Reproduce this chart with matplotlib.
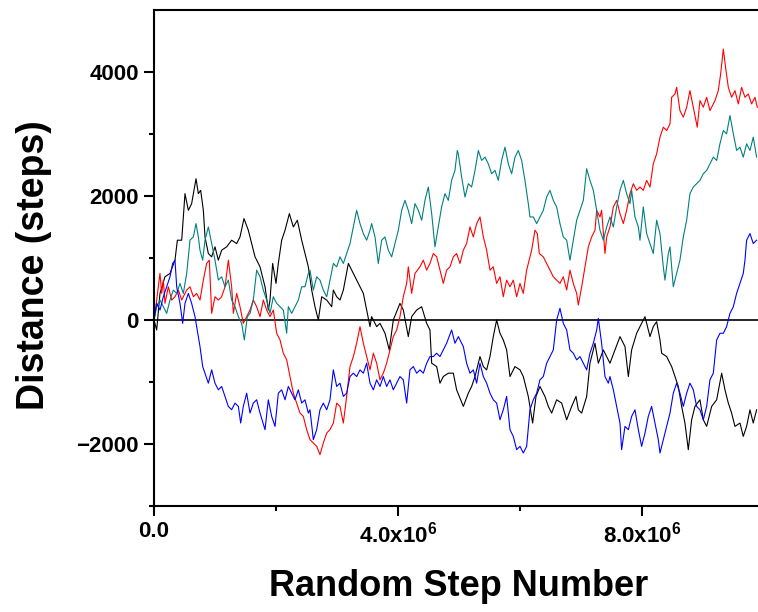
import numpy as np
import matplotlib
matplotlib.use("Agg")
import matplotlib.pyplot as plt
from matplotlib.ticker import FixedLocator, FixedFormatter

plt.rcParams['font.family'] = ['Liberation Sans', 'DejaVu Sans']
plt.rcParams['font.weight'] = 'bold'
plt.rcParams['mathtext.fontset'] = 'custom'
plt.rcParams['mathtext.rm'] = 'Liberation Sans:bold'
plt.rcParams['mathtext.bf'] = 'Liberation Sans:bold'
plt.rcParams['mathtext.it'] = 'Liberation Sans:bold'

# -----------------------------
# datos (x en millones de pasos, y en pasos)
# -----------------------------

x_black = [0, 0.044, 0.098, 0.180, 0.262, 0.344, 0.383, 0.454, 0.508, 0.563, 0.617, 0.689, 0.727, 0.765,
           0.809, 0.836, 0.891, 0.945, 1.000, 1.055, 1.109, 1.191, 1.273, 1.355, 1.410, 1.475, 1.546, 1.601,
           1.656, 1.738, 1.820, 1.874, 1.902, 1.945, 2.000, 2.038, 2.093, 2.148, 2.219, 2.284, 2.350, 2.421,
           2.475, 2.530,
           2.585, 2.639, 2.694, 2.749, 2.831, 2.913, 2.940, 2.995, 3.049, 3.104, 3.186, 3.268, 3.350, 3.432,
           3.486, 3.541, 3.568, 3.650, 3.705, 3.787, 3.857, 3.923, 4.032, 4.087, 4.169, 4.224, 4.306, 4.388,
           4.470, 4.524, 4.552, 4.634, 4.688, 4.743, 4.825, 4.907, 4.961,
           5.071, 5.153, 5.207, 5.262, 5.344, 5.399, 5.453, 5.508, 5.562, 5.617, 5.672, 5.726, 5.781, 5.836,
           5.918, 6.000, 6.054, 6.136, 6.207, 6.262, 6.327, 6.409, 6.464, 6.519, 6.601, 6.683, 6.765, 6.847,
           6.918, 6.956, 7.011, 7.093, 7.147, 7.229, 7.284, 7.366,
           7.475, 7.557, 7.639, 7.721, 7.776, 7.830, 7.912, 7.994, 8.049, 8.131, 8.185, 8.240, 8.295, 8.322,
           8.404, 8.486, 8.541, 8.595, 8.650, 8.704, 8.759, 8.814, 8.868, 8.950, 9.005, 9.060, 9.142, 9.224,
           9.306, 9.360, 9.415, 9.469, 9.524, 9.606, 9.660, 9.715, 9.770, 9.824, 9.879]
y_black = [0, -161, 429, 697, 751, 965, 1287, 1287, 2038, 1769, 1877, 2279, 2038, 2091,
           1769, 1340, 1072, 1019, 1180, 965, 1126, 1180, 1287, 1233, 1340, 1636, 1448, 1233,
           1019, 858, 536, 161, 322, 912, 590, 912, 1287, 1448, 1716, 1501, 1609, 1287,
           1072, 858,
           483, 214, 0, 375, 322, 214, 483, 375, 322, 483, 912, 751, 590, 429,
           161, -107, 54, -107, -54, -214, -483, 0, 268, 161, -268, 54, 161, 214,
           -54, -161, -697, -751, -1019, -912, -858, -858, -1126,
           -1394, -1180, -1072, -912, -590, -751, -804, -590, -268, 0, -214, -322, -483, -912,
           -751, -804, -912, -1233, -1662, -1233, -1072, -1233, -1394, -1501, -1287, -1340, -1609, -1394,
           -1233, -1448, -1501, -1233, -697, -375, -697, -483,
           -697, -483, -268, -429, -912, -483, -214, -54, 54, -268, -107, -27, -322, -536,
           -590, -751, -912, -1072, -1394, -1662, -2091, -1609, -1394, -1287, -1609, -1716, -1394, -1287,
           -858, -1126, -1340, -1501, -1716, -1662, -1877, -1716, -1448, -1662, -1448]

x_red = [0, 0.044, 0.098, 0.126, 0.153, 0.180, 0.235, 0.290, 0.344, 0.399, 0.454, 0.536, 0.590, 0.645,
         0.699, 0.754, 0.809, 0.863, 0.907, 0.945, 1.000, 1.055, 1.109, 1.164, 1.219, 1.273, 1.301, 1.355,
         1.410, 1.464, 1.519, 1.574, 1.628, 1.683, 1.738, 1.792, 1.847, 1.902, 1.956, 2.011, 2.066, 2.120,
         2.175, 2.230, 2.284, 2.339, 2.393, 2.448, 2.503,
         2.557, 2.612, 2.667, 2.721, 2.776, 2.831, 2.885, 2.940, 2.995, 3.049, 3.104, 3.158, 3.213, 3.268,
         3.322, 3.377, 3.432, 3.486, 3.541, 3.596, 3.650, 3.705, 3.759, 3.814, 3.868, 3.923, 3.978, 4.032,
         4.087, 4.142, 4.169, 4.224, 4.278, 4.360, 4.415, 4.470, 4.524, 4.579, 4.634, 4.688, 4.743, 4.797,
         4.852, 4.907, 4.961,
         5.016, 5.071, 5.125, 5.180, 5.235, 5.289, 5.344, 5.399, 5.453, 5.508, 5.562, 5.617, 5.672, 5.726,
         5.781, 5.836, 5.890, 5.945, 6.000, 6.054, 6.109, 6.191, 6.245, 6.284, 6.316, 6.382, 6.437, 6.491,
         6.546, 6.601, 6.655, 6.710, 6.765, 6.819, 6.874, 6.929, 6.956, 7.011, 7.065, 7.120, 7.175, 7.229,
         7.257, 7.311, 7.338, 7.393,
         7.421, 7.475, 7.530, 7.585, 7.639, 7.694, 7.748, 7.803, 7.858, 7.912, 7.967, 8.021, 8.076, 8.131,
         8.185, 8.240, 8.295, 8.349, 8.404, 8.459, 8.486, 8.541, 8.568, 8.622, 8.677, 8.732, 8.786, 8.841,
         8.906, 8.950, 9.005, 9.060, 9.114, 9.196, 9.251, 9.289, 9.333, 9.377, 9.415, 9.469, 9.524, 9.579,
         9.633, 9.688, 9.742, 9.797, 9.852, 9.890]
y_red = [0, 322, 751, 429, 644, 268, 536, 322, 375, 483, 322, 483, 536, 375,
         429, 322, 644, 912, 965, 107, 375, 322, 375, 536, 965, 536, 107, 429,
         215, -54, 54, 161, 322, 215, 54, 322, 161, 54, 161, -214, -322, -536,
         -643, -911, -1180, -1340, -1501, -1555, -1769,
         -1930, -1984, -2038, -2172, -1984, -1823, -1769, -1662, -1340, -1394, -1662, -1233, -751, -590,
         -375, -107, -375, -590, -804, -536, -697, -965, -858, -697, -483, -268, -161, 54,
         375, 590, 858, 429, 751, 858, 965, 804, 912, 1072, 1019, 804, 590, 804,
         858, 1019, 1072,
         912, 1126, 1233, 1501, 1340, 1555, 1662, 1340, 1126, 804, 858, 590, 697, 375,
         643, 536, 643, 375, 590, 429, 804, 1126, 1448, 1394, 1072, 1019, 912, 804,
         697, 643, 590, 697, 483, 804, 590, 429, 241, 536, 858, 1180, 1340, 1448,
         1769, 1662, 1769, 1072,
         1340, 1501, 1823, 1930, 1716, 1555, 1769, 2038, 2198, 2091, 2145, 2091, 2252, 2145,
         2520, 2681, 2949, 3110, 3056, 3164, 3592, 3646, 3753, 3378, 3271, 3432, 3700, 3432,
         3110, 3539, 3432, 3592, 3378, 3539, 3700, 3968, 4370, 4021, 3753, 3592, 3700, 3485,
         3753, 3592, 3646, 3485, 3592, 3432]

x_teal = [0, 0.044, 0.098, 0.153, 0.208, 0.262, 0.317, 0.372, 0.426, 0.481, 0.536, 0.590, 0.645, 0.689,
          0.727, 0.754, 0.798, 0.836, 0.891, 0.945, 1.000, 1.055, 1.109, 1.164, 1.219, 1.273, 1.328, 1.383,
          1.437, 1.481, 1.530, 1.574, 1.628, 1.683, 1.738, 1.792, 1.847, 1.902, 1.956, 2.011, 2.066, 2.120,
          2.175, 2.202, 2.257, 2.311, 2.366, 2.421, 2.475, 2.530,
          2.557, 2.612, 2.667, 2.721, 2.776, 2.831, 2.885, 2.940, 2.995, 3.049, 3.104, 3.158, 3.213, 3.268,
          3.322, 3.377, 3.432, 3.486, 3.541, 3.568, 3.623, 3.677, 3.732, 3.787, 3.841, 3.896, 3.950, 4.005,
          4.060, 4.114, 4.169, 4.224, 4.278, 4.333, 4.388, 4.442, 4.497, 4.552, 4.606, 4.661, 4.715, 4.770,
          4.825, 4.879, 4.934, 4.972,
          4.989, 5.043, 5.098, 5.153, 5.207, 5.262, 5.317, 5.371, 5.426, 5.480, 5.535, 5.590, 5.644, 5.699,
          5.754, 5.808, 5.863, 5.918, 5.972, 6.027, 6.081, 6.136, 6.163, 6.218, 6.273, 6.327, 6.382, 6.437,
          6.491, 6.546, 6.601, 6.655, 6.710, 6.765, 6.819, 6.874, 6.929, 6.983, 7.038, 7.093, 7.147, 7.202,
          7.257,
          7.311, 7.366, 7.421, 7.475, 7.530, 7.585, 7.639, 7.694, 7.748, 7.803, 7.830, 7.885, 7.940, 7.967,
          8.021, 8.076, 8.131, 8.185, 8.240, 8.295, 8.349, 8.377, 8.431, 8.459, 8.513, 8.568, 8.622, 8.677,
          8.732, 8.786, 8.841, 8.896, 8.950, 9.005, 9.060, 9.114, 9.169, 9.224, 9.278, 9.333, 9.387, 9.442,
          9.497, 9.551, 9.606, 9.660, 9.715, 9.770, 9.824, 9.879]
y_teal = [0, 215, 322, 215, 107, 322, 483, 429, 590, 429, 751, 1287, 1340, 1555,
          1340, 1126, 965, 1287, 1501, 1233, 965, 644, 697, 536, 644, 322, 215, 54,
          -54, -322, 54, 107, 322, 804, 697, 483, 322, 107, 375, 268, 215, 161,
          -214, 215, 107, 215, 322, 536, 536, 751,
          804, 483, 697, 643, 483, 375, 643, 912, 858, 1019, 912, 1072, 1233, 1501,
          1769, 1555, 1394, 1287, 1448, 1555, 1340, 912, 1287, 1340, 1126, 1019, 1233, 1448,
          1769, 1930, 1769, 1555, 1877, 1769, 1609, 1930, 2145, 1716, 1180, 1501, 1823, 2038,
          1930, 2252, 2413, 2734,
          2681, 2306, 1984, 2198, 2145, 2413, 2734, 2574, 2627, 2520, 2359, 2413, 2252, 2574,
          2788, 2520, 2359, 2627, 2734, 2574, 2252, 1877, 1662, 1662, 1555, 1662, 1769, 1984,
          2091, 1930, 1823, 1555, 1340, 1287, 965, 1287, 1609, 1769, 1930, 2440, 2252, 2091,
          1769,
          1448, 1287, 1501, 1662, 1501, 1823, 2091, 2252, 2038, 1877, 2091, 1662, 1501, 1287,
          1823, 1394, 1233, 1072, 1609, 1394, 858, 643, 1072, 1180, 536, 751, 965, 1340,
          1609, 2038, 2145, 2198, 2252, 2359, 2413, 2520, 2627, 2574, 2842, 3056, 3003, 3298,
          3003, 2735, 2788, 2627, 2842, 2735, 2949, 2627]

x_blue = [0, 0.044, 0.098, 0.153, 0.208, 0.262, 0.306, 0.344, 0.372, 0.426, 0.470, 0.508, 0.563, 0.617,
          0.672, 0.727, 0.754, 0.798, 0.836, 0.891, 0.945, 1.000, 1.055, 1.109, 1.164, 1.219, 1.273, 1.328,
          1.383, 1.421, 1.464, 1.519, 1.574, 1.628, 1.683, 1.738, 1.820, 1.874, 1.929, 1.984, 2.038, 2.093,
          2.148, 2.202, 2.257, 2.311, 2.366, 2.421, 2.475, 2.530,
          2.557, 2.612, 2.667, 2.721, 2.776, 2.831, 2.885, 2.940, 2.995, 3.049, 3.104, 3.158, 3.213, 3.268,
          3.322, 3.377, 3.432, 3.486, 3.541, 3.596, 3.650, 3.705, 3.759, 3.814, 3.868, 3.923, 3.978, 4.032,
          4.087, 4.142, 4.196, 4.251, 4.306, 4.360, 4.415, 4.470, 4.524, 4.579, 4.634, 4.688, 4.743, 4.797,
          4.879, 4.934, 4.989,
          5.016, 5.071, 5.125, 5.180, 5.235, 5.289, 5.344, 5.399, 5.453, 5.508, 5.562, 5.617, 5.672, 5.726,
          5.781, 5.836, 5.890, 5.945, 6.000, 6.054, 6.109, 6.163, 6.218, 6.273, 6.327, 6.382, 6.437, 6.491,
          6.546, 6.601, 6.655, 6.710, 6.765, 6.819, 6.874, 6.929, 6.983, 7.038, 7.093, 7.147, 7.202, 7.257,
          7.284, 7.338, 7.393, 7.448,
          7.475, 7.530, 7.585, 7.639, 7.666, 7.721, 7.776, 7.830, 7.885, 7.940, 7.994, 8.049, 8.103, 8.158,
          8.213, 8.267, 8.295, 8.349, 8.404, 8.459, 8.513, 8.568, 8.622, 8.677, 8.732, 8.786, 8.841, 8.896,
          8.950, 9.005, 9.060, 9.114, 9.169, 9.224, 9.278, 9.333, 9.387, 9.442, 9.497, 9.551, 9.606, 9.660,
          9.688, 9.715, 9.770, 9.824, 9.879]
y_blue = [0, 268, 161, 375, 536, 697, 912, 965, 536, 268, -54, 268, 429, 268,
          54, -268, -429, -750, -858, -1019, -804, -1019, -1126, -1072, -1233, -1394, -1447, -1340,
          -1394, -1662, -1394, -1180, -1501, -1340, -1287, -1501, -1769, -1287, -1555, -1716, -1180, -1126,
          -1287, -1072, -1180, -1287, -1126, -1340, -1287, -1501,
          -1448, -1930, -1769, -1448, -1340, -1448, -1287, -804, -1072, -1019, -1233, -1180, -912, -858,
          -912, -804, -858, -697, -1019, -1126, -965, -1072, -912, -1072, -965, -1126, -1019, -912,
          -965, -1340, -804, -751, -858, -804, -858, -697, -590, -590, -536, -590, -483, -375,
          -161, -375, -268,
          -322, -429, -697, -858, -804, -1019, -697, -912, -1019, -1180, -1287, -1340, -1609, -1448,
          -1233, -1769, -1877, -2091, -2038, -2145, -2038, -1448, -1287, -1180, -965, -912, -697, -590,
          -483, 0, 188, -54, -161, -483, -536, -643, -590, -697, -804, -536, -375, -161,
          27, -375, -912, -1019,
          -912, -1126, -1394, -1662, -2091, -1716, -1769, -1555, -1448, -1769, -2038, -1823, -1555, -1394,
          -1662, -1930, -2145, -1930, -1716, -1501, -1180, -1019, -1180, -1394, -1180, -1019, -1126, -1394,
          -1448, -1609, -1394, -965, -858, -322, -214, -214, -107, 107, 214, 429, 590, 751,
          965, 1287, 1394, 1233, 1287]

series = [
    (x_black, y_black, "black"),
    (x_red, y_red, "#ff0000"),
    (x_teal, y_teal, "#008080"),
    (x_blue, y_blue, "#0000ff"),
]

W, H = 758, 612
fig = plt.figure(figsize=(W / 100, H / 100), dpi=100)
ax = fig.add_axes([154 / W, (H - 506) / H, 610 / W, 496 / H])

ax.axhline(0, color="black", lw=1.2, zorder=1)

for xs, ys, col in series:
    ax.plot(np.array(xs) * 1e6, ys, color=col, lw=0.8, zorder=2)

ax.set_xlim(0, 1e7)
ax.set_ylim(-3000, 5000)

ax.xaxis.set_major_locator(FixedLocator([0, 4e6, 8e6]))
ax.xaxis.set_major_formatter(FixedFormatter(["0.0", r"4.0x10$^{6}$", r"8.0x10$^{6}$"]))
ax.xaxis.set_minor_locator(FixedLocator([2e6, 6e6]))
ax.yaxis.set_major_locator(FixedLocator([-2000, 0, 2000, 4000]))
ax.yaxis.set_minor_locator(FixedLocator([-3000, -1000, 1000, 3000]))

for s in ["left", "bottom", "top"]:
    ax.spines[s].set_linewidth(1.5)
ax.spines["right"].set_visible(False)

ax.tick_params(which="major", direction="out", length=7, width=1.5, labelsize=16, pad=4)
ax.tick_params(which="minor", direction="out", length=3.5, width=1.5)
ax.tick_params(top=False, right=False)

ax.set_xlabel("Random Step Number", fontsize=26, fontweight="bold", labelpad=16)
ax.set_ylabel("Distance (steps)", fontsize=27, fontweight="bold")
ax.yaxis.set_label_coords(-0.168, 0.486)

fig.savefig("out.png", dpi=100)
